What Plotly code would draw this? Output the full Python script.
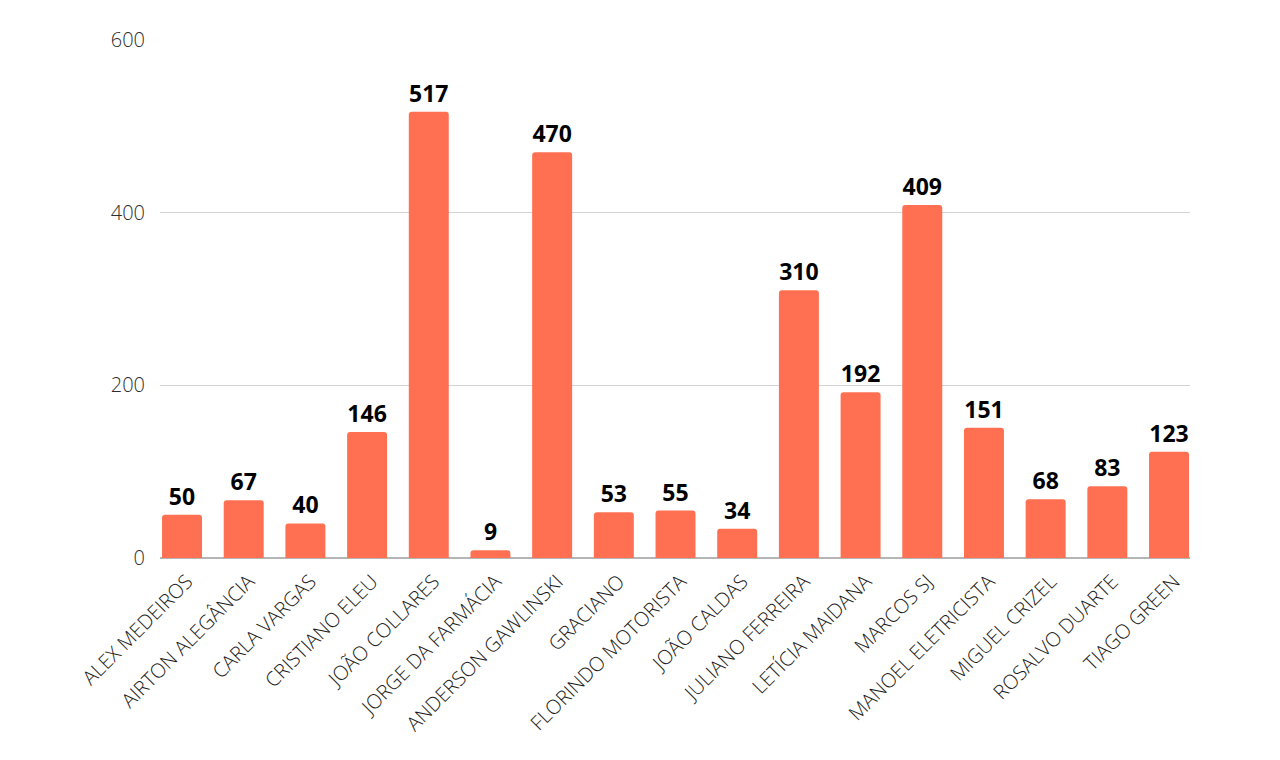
import plotly.graph_objects as go

names = ["ALEX MEDEIROS", "AIRTON ALEGÂNCIA", "CARLA VARGAS", "CRISTIANO ELEU",
         "JOÃO COLLARES", "JORGE DA FARMÁCIA", "ANDERSON GAWLINSKI", "GRACIANO",
         "FLORINDO MOTORISTA", "JOÃO CALDAS", "JULIANO FERREIRA", "LETÍCIA MAIDANA",
         "MARCOS SJ", "MANOEL ELETRICISTA", "MIGUEL CRIZEL", "ROSALVO DUARTE",
         "TIAGO GREEN"]
votes = [50, 67, 40, 146, 517, 9, 470, 53, 55, 34, 310, 192, 409, 151, 68, 83, 123]
y_ticks = [0, 200, 400, 600]

fig = go.Figure()
fig.add_trace(go.Bar(
    x=names, y=votes,
    marker=dict(color="#FF7052", line=dict(width=0)),
    text=votes, textposition="outside", cliponaxis=False,
    textfont=dict(family="Open Sans", size=23, color="#000000", weight=700),
))

# page has an 8px body margin, so margins are shifted to line up with the reference
fig.update_layout(
    width=1280, height=760,
    margin=dict(l=152, r=98, t=32, b=210),
    paper_bgcolor="white", plot_bgcolor="white",
    bargap=0.352, barcornerradius=3,
    showlegend=False,
    font=dict(family="Open Sans", color="#333333"),
    xaxis=dict(tickangle=-45, tickfont=dict(size=20, weight=300, color="#1a1a1a"),
               range=[-0.357, len(names) - 1 + 0.34],
               showgrid=False, ticks="", ticklabelstandoff=7, ticklabelshift=5,
               automargin=False),
    yaxis=dict(range=[0, 600], tickvals=y_ticks,
               tickfont=dict(size=20, weight=300, color="#2e2e2e"),
               gridcolor="#d3d3d3", zeroline=True, zerolinecolor="#b5b5b5", zerolinewidth=1.5,
               ticks="", ticklabelstandoff=14, automargin=False),
)

fig.write_html("out.html")
